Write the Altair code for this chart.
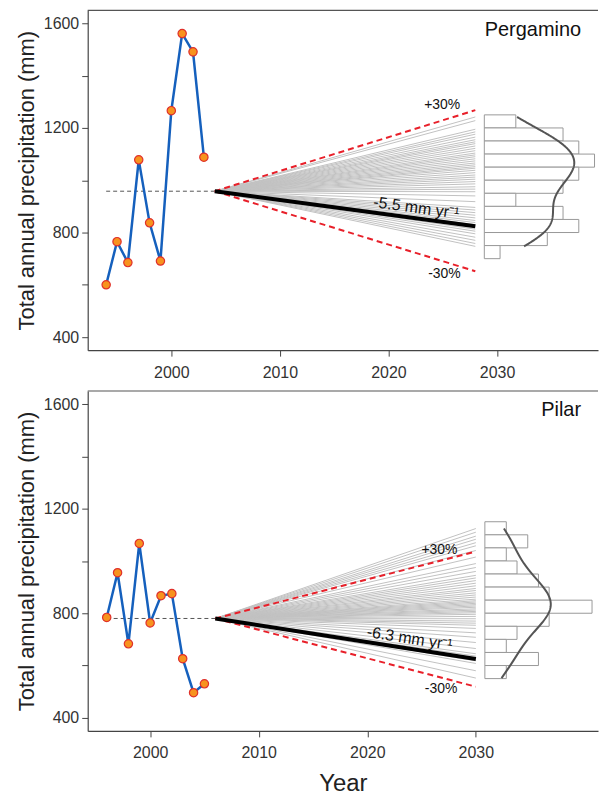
import altair as alt
import pandas as pd

FONT = "Liberation Sans"

# ---------------- data ----------------
perg_years = list(range(1994, 2004))
perg_precip = [600, 765, 685, 1078, 837, 691, 1266, 1561, 1491, 1088]
pilar_years = list(range(1996, 2006))
pilar_precip = [784, 955, 683, 1067, 763, 867, 875, 626, 496, 530]

perg_origin = [2004, 958]
pilar_origin = [2006, 780]
perg_end_year = 2028
pilar_end_year = 2030
perg_bounds = [1268, 652]     # +30 %, -30 %
pilar_bounds = [1036, 519]
perg_trend_end = 824
pilar_trend_end = 625

perg_endpoints = [1242, 1228,
                  1195, 1185, 1176, 1165, 1155,
                  1147, 1140, 1131, 1122, 1113, 1104,
                  1097, 1090, 1082, 1074, 1066, 1059, 1052,
                  1046, 1038, 1029, 1020, 1012, 1004,
                  995, 986, 975, 966, 956,
                  940, 918,
                  896, 886, 876, 866, 856,
                  846, 838, 830, 822, 813, 805,
                  795, 782, 770, 758,
                  747]
pilar_endpoints = [1124, 1110,
                   1095, 1083, 1070, 1058,
                   1040, 1015,
                   990, 975, 960,
                   945, 935, 925, 915, 905,
                   895, 887, 878, 870, 862, 854,
                   848, 843, 838, 833, 828, 823, 817, 812, 807, 802,
                   796, 788, 779, 770, 762, 754,
                   742, 725, 708,
                   688, 665,
                   645, 636, 627, 618, 608,
                   580, 552]

site_names = ["Pergamino", "Pilar"]
trend_labels = ["-5.5 mm yr\u207b\u00b9", "-6.3 mm yr\u207b\u00b9"]
y_ticks = [400, 600, 800, 1000, 1200, 1400, 1600]
x_ticks = [2000, 2010, 2020, 2030]

W, H = 512, 341


def panel(name, years, precip, origin, end_year, bounds, trend_end, endpoints,
          xdom, bin_extent, k, bw, plus_pos, minus_pos, trend_label, trend_pos,
          trend_angle, name_pos, xtitle):
    xs = alt.Scale(domain=xdom, nice=False, zero=False)
    ys = alt.Scale(domain=[350, 1650], nice=False, zero=False)
    xax = alt.Axis(values=x_ticks, format="d", title=xtitle, titleFontSize=24,
                   titlePadding=11, labelPadding=8, grid=False)
    yax = alt.Axis(values=y_ticks, format="d", title="Total annual precipitation (mm)",
                   labelExpr="datum.value % 400 == 0 ? datum.label : ''",
                   titlePadding=5, labelPadding=3, grid=False)

    def X(f):
        return alt.X(f, scale=xs, axis=xax)

    def Y(f):
        return alt.Y(f, scale=ys, axis=yax)

    obs = pd.DataFrame({"year": years, "p": precip})
    mean_df = pd.DataFrame({"x0": [years[0]], "x1": [origin[0]], "y": [origin[1]]})
    fan = pd.DataFrame({"x0": origin[0], "y0": origin[1], "x1": end_year, "y1": endpoints})
    red = pd.DataFrame({"x0": origin[0], "y0": origin[1], "x1": end_year, "y1": bounds})
    blk = pd.DataFrame({"x0": [origin[0]], "y0": [origin[1]], "x1": [end_year], "y1": [trend_end]})
    ends = pd.DataFrame({"end": endpoints})
    base = end_year + 0.83

    mean_line = alt.Chart(mean_df).mark_rule(color="#555", strokeDash=[4, 3], strokeWidth=1).encode(
        x=X("x0:Q"), x2="x1:Q", y=Y("y:Q"))
    gray = alt.Chart(fan).mark_rule(color="#c2c2c2", strokeWidth=1).encode(
        x=X("x0:Q"), x2="x1:Q", y=Y("y0:Q"), y2="y1:Q")
    redl = alt.Chart(red).mark_rule(color="#e8202a", strokeWidth=2, strokeDash=[6, 4]).encode(
        x=X("x0:Q"), x2="x1:Q", y=Y("y0:Q"), y2="y1:Q")
    black = alt.Chart(blk).mark_rule(color="#000", strokeWidth=4).encode(
        x=X("x0:Q"), x2="x1:Q", y=Y("y0:Q"), y2="y1:Q")
    line = alt.Chart(obs).mark_line(color="#1560bd", strokeWidth=2.5).encode(
        x=X("year:Q"), y=Y("p:Q"))
    pts = alt.Chart(obs).mark_point(shape="circle", filled=True, fill="#f7931e", stroke="#e0302a",
                                    strokeWidth=1.2, size=70, opacity=1).encode(
        x=X("year:Q"), y=Y("p:Q"))

    hist = alt.Chart(ends).transform_bin(
        "b0", "end", bin=alt.Bin(extent=bin_extent, step=50)
    ).transform_aggregate(
        n="count()", groupby=["b0", "b0_end"]
    ).transform_calculate(
        xb=f"{base}", xe=f"{base} + datum.n * {k}"
    ).mark_rect(fill="white", stroke="#999", strokeWidth=1).encode(
        x=X("xb:Q"), x2="xe:Q", y=Y("b0:Q"), y2="b0_end:Q")

    dens = alt.Chart(ends).transform_density(
        "end", as_=["v", "d"], extent=[min(endpoints), max(endpoints)],
        bandwidth=bw, counts=True, steps=200
    ).transform_calculate(
        xd=f"{base} + datum.d * 50 * {k}"
    ).mark_line(color="#555", strokeWidth=2).encode(
        x=X("xd:Q"), y=Y("v:Q"), order="v:Q")

    def txt(pos, text, size, angle=0, align="center"):
        df = pd.DataFrame({"x": [pos[0]], "y": [pos[1]], "t": [text]})
        return alt.Chart(df).mark_text(font=FONT, fontSize=size, angle=angle, align=align,
                                       baseline="middle", color="#111").encode(
            x=X("x:Q"), y=Y("y:Q"), text="t:N")

    border = alt.Chart(mean_df).mark_rule(color="#555", strokeWidth=1.2).encode(
        x=alt.value(0), x2=alt.value(W), y=alt.value(0))

    return alt.layer(
        mean_line, gray, redl, black, line, pts, hist, dens,
        txt(plus_pos, "+30%", 14), txt(minus_pos, "-30%", 14),
        txt(trend_pos, trend_label, 16, trend_angle),
        txt(name_pos, name, 20, 0, "right"),
        border,
    ).properties(width=W, height=H)


top = panel(site_names[0], perg_years, perg_precip, perg_origin, perg_end_year, perg_bounds,
            perg_trend_end, perg_endpoints, [1992.3, 2039.3], [700, 1250], 1.45, 72,
            [2024.95, 1288], [2025.16, 640], trend_labels[0], [2022.56, 894], 7.7,
            [2037.74, 1574], None)
bottom = panel(site_names[1], pilar_years, pilar_precip, pilar_origin, pilar_end_year, pilar_bounds,
               pilar_trend_end, pilar_endpoints, [1994.25, 2041.25], [550, 1150], 0.987, 80,
               [2026.65, 1040], [2026.8, 510], trend_labels[1], [2023.9, 703], 8.9,
               [2039.69, 1576], "Year")

chart = alt.vconcat(top, bottom, spacing=10).properties(
    padding={"left": 15, "top": 8, "right": 0, "bottom": 0},
    background="white"
).configure_axis(
    labelFont=FONT, titleFont=FONT, labelFontSize=16, titleFontSize=22,
    labelColor="#333", titleColor="#222", domainColor="#444", tickColor="#444",
    tickSize=6, domainWidth=1.2, grid=False, titleFontWeight="normal"
).configure_view(stroke=None)

chart.save("out.html", embed_options={"renderer": "svg", "actions": False})
